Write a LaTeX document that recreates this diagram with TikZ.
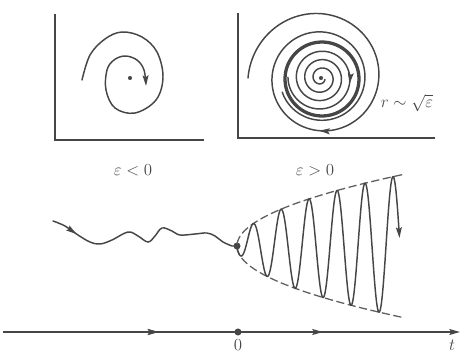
\documentclass[tikz,border=0pt]{standalone}
\usetikzlibrary{arrows.meta,decorations.markings}
\definecolor{ink}{RGB}{70,70,70}
\definecolor{dashink}{RGB}{95,95,95}
\begin{document}
\begin{tikzpicture}[x=0.03cm,y=-0.03cm,
  line/.style={draw=ink,line width=1.25pt,line cap=round},
  axisline/.style={draw=ink,line width=1.6pt},
  tip/.style={-{Stealth[length=9pt,width=5pt,inset=1.5pt]}},
  midarrow/.style={postaction={decorate},decoration={markings,mark=at position #1 with {\arrow{Stealth[length=9pt,width=5pt,inset=1.5pt]}}}},
  envelope/.style={draw=dashink,line width=1.1pt,dash pattern=on 7pt off 3pt},
  lbl/.style={text=ink,font=\fontsize{14}{16}\selectfont,inner sep=0pt},
  dotnode/.style={circle,fill=ink,inner sep=0pt,minimum size=#1}]
\useasboundingbox (0,0) rectangle (462,354);
% ---------- left panel ----------
\coordinate (LT) at (55,14); \coordinate (LO) at (55,140); \coordinate (LR) at (204,140);
\draw[axisline] (LT) -- (LO) -- (LR);
\node[dotnode=3.5pt] (lc) at (130,78) {};
\draw[line,tip] plot[smooth,tension=0.6] coordinates {(82,80) (90,55) (105,39) (122,32) (142,37) (157,52) (163,77) (156,100) (135,113) (115,108) (106,90) (107,70) (114,60) (125,56) (137,60) (144,70) (146,86)};
\node[lbl] (lneg) at (133,170) {$\varepsilon<0$};
% ---------- right panel ----------
\coordinate (RT) at (238,13); \coordinate (RO) at (238,138); \coordinate (RR) at (435,138);
\draw[axisline] (RT) -- (RO) -- (RR);
\node[dotnode=3.5pt] (rc) at (321,78) {};
% limit cycle
\draw[draw=ink,line width=2.8pt] (322,79) circle[radius=37];
% outer spiral converging inward
\draw[line,tip] plot[domain=0:272,samples=120,variable=\t]
  ({321+(37+36*exp(-0.00305*\t))*cos(180-\t)},{78-(37+36*exp(-0.00305*\t))*sin(180-\t)});
\draw[line] plot[domain=270:700,samples=200,variable=\t]
  ({321+(37+36*exp(-0.00305*\t))*cos(180-\t)},{78-(37+36*exp(-0.00305*\t))*sin(180-\t)});
% inner spiral growing outward
\draw[line,tip] plot[domain=90:1160,samples=400,variable=\t]
  ({321+(2+0.023333*\t)*cos(1149-\t)},{78-(2+0.023333*\t)*sin(1149-\t)});
\draw[line] plot[domain=1157:1330,samples=80,variable=\t]
  ({321+(2+0.023333*\t)*cos(1149-\t)},{78-(2+0.023333*\t)*sin(1149-\t)});
\node[lbl] (rpos) at (315,170) {$\varepsilon>0$};
\node[lbl] (rlab) at (407,103) {$r\sim\sqrt{\varepsilon}$};
% ---------- time series ----------
\node[dotnode=6pt] (bif) at (237,246) {};
\draw[line,midarrow=0.13] plot[smooth,tension=0.6] coordinates {(53,221) (65,226) (78,235) (90,242) (100,244) (112,240) (128,232) (138,236) (148,242) (155,236) (162,228) (172,231) (180,235) (195,234) (207,233) (215,236) (223,242) (232,246)} -- (bif.center);
\draw[envelope] plot[domain=-12.85:12.85,samples=80,variable=\v] ({237+\v*\v},{246+5.55*\v});
\draw[line,tip] plot[domain=237:399.5,samples=500,variable=\x]
  ({\x},{246-5.55*sqrt(max(\x-237,0))*cos(12.857*(\x-253))});
% ---------- t axis ----------
\coordinate (TA) at (3,332); \coordinate (TB) at (460,332);
\draw[axisline,-{Stealth[length=9pt,width=5pt,inset=1.5pt]},midarrow=0.34,postaction={decorate,decoration={markings,mark=at position 0.70 with {\arrow{Stealth[length=9pt,width=5pt,inset=1.5pt]}}}}] (TA) -- (TB);
\node[dotnode=6pt] (zero) at (238,332) {};
\node[lbl] (zl) at (238,345) {$0$};
\node[lbl] (tl) at (452,345) {$t$};
\end{tikzpicture}
\end{document}
